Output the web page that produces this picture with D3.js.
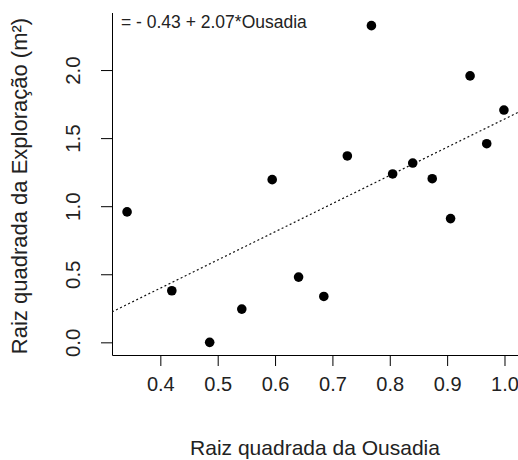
<!DOCTYPE html>
<html lang="pt">
<head>
<meta charset="UTF-8">
<script src="https://d3js.org/d3.v7.min.js"></script>
<style>
  body { margin: 0; background: white; }
  svg { font-family: "Liberation Sans", Arial, sans-serif; }
</style>
</head>
<body>
<div id="chart"></div>
<script>
// data
var ousadia = [0.342, 0.420, 0.486, 0.542, 0.595, 0.641, 0.685, 0.726,
               0.768, 0.805, 0.840, 0.874, 0.906, 0.940, 0.969, 0.999];
var exploracao = [0.958, 0.379, 0.000, 0.244, 1.195, 0.479, 0.337, 1.369,
                  2.326, 1.237, 1.317, 1.202, 0.909, 1.957, 1.459, 1.706];
var xTicks = [0.4, 0.5, 0.6, 0.7, 0.8, 0.9, 1.0];
var yTicks = [0.0, 0.5, 1.0, 1.5, 2.0];
var intercept = -0.43, slope = 2.07;
var eqLabel = "= - 0.43 + 2.07*Ousadia";

var W = 518, H = 460;
var margin = { top: 13, right: -1, bottom: 105, left: 112 };
var width = W - margin.left - margin.right,
    height = H - margin.top - margin.bottom;

var svg = d3.select("#chart").append("svg")
  .attr("width", W).attr("height", H);

var g = svg.append("g")
  .attr("transform", "translate(" + margin.left + "," + margin.top + ")");

// R style: 4% padding on each side
var xr = d3.extent(ousadia), yr = d3.extent(exploracao);
var xp = (xr[1] - xr[0]) * 0.04, yp = (yr[1] - yr[0]) * 0.04;

var x = d3.scaleLinear().domain([xr[0] - xp, xr[1] + xp]).range([0, width]);
var y = d3.scaleLinear().domain([yr[0] - yp, yr[1] + yp]).range([height, 0]);

g.append("clipPath").attr("id", "clip")
  .append("rect").attr("width", width).attr("height", height);

// x axis
var xAxis = g.append("g")
  .attr("transform", "translate(0," + height + ")")
  .call(d3.axisBottom(x).tickValues(xTicks).tickFormat(d3.format(".1f"))
    .tickSizeInner(11).tickSizeOuter(0).tickPadding(9));
xAxis.select(".domain").attr("d", "M0.5,0.5H" + (width + 2));
xAxis.selectAll("text")
  .style("font-size", "20px").attr("fill", "#222")
  .attr("dy", 0).attr("y", 47 - 11);

// y axis, labels turned like R's default las=0
var yAxis = g.append("g")
  .call(d3.axisLeft(y).tickValues(yTicks).tickFormat(d3.format(".1f"))
    .tickSizeInner(11).tickSizeOuter(0).tickPadding(9));
yAxis.select(".domain").attr("d", "M0.5," + (height + 0.5) + "V0");
yAxis.selectAll("text")
  .style("font-size", "20.5px").attr("fill", "#222")
  .attr("text-anchor", "middle")
  .attr("x", 0).attr("y", 0).attr("dy", 0)
  .attr("transform", "translate(-32,0) rotate(-90)");

// regression line (abline, clipped to plot region)
var lineX = x.domain();
g.append("line")
  .attr("clip-path", "url(#clip)")
  .attr("x1", x(lineX[0])).attr("y1", y(intercept + slope * lineX[0]))
  .attr("x2", x(lineX[1])).attr("y2", y(intercept + slope * lineX[1]))
  .attr("stroke", "#111").attr("stroke-width", 1.2)
  .attr("stroke-dasharray", "2,2.5");

// points
g.selectAll("circle.pt")
  .data(ousadia)
  .join("circle")
  .attr("class", "pt")
  .attr("cx", function(d) { return x(d); })
  .attr("cy", function(d, i) { return y(exploracao[i]); })
  .attr("r", 4.8)
  .attr("fill", "black");

// equation
g.append("text")
  .attr("x", 9).attr("y", 15)
  .style("font-size", "17.5px").attr("fill", "#222")
  .text(eqLabel);

// axis titles
svg.append("text")
  .attr("x", 315).attr("y", 455)
  .attr("text-anchor", "middle")
  .style("font-size", "21px").attr("fill", "#222")
  .text("Raiz quadrada da Ousadia");

svg.append("text")
  .attr("transform", "translate(27,186) rotate(-90)")
  .attr("text-anchor", "middle")
  .style("font-size", "22px").attr("fill", "#222")
  .text("Raiz quadrada da Exploração (m²)");
</script>
</body>
</html>
